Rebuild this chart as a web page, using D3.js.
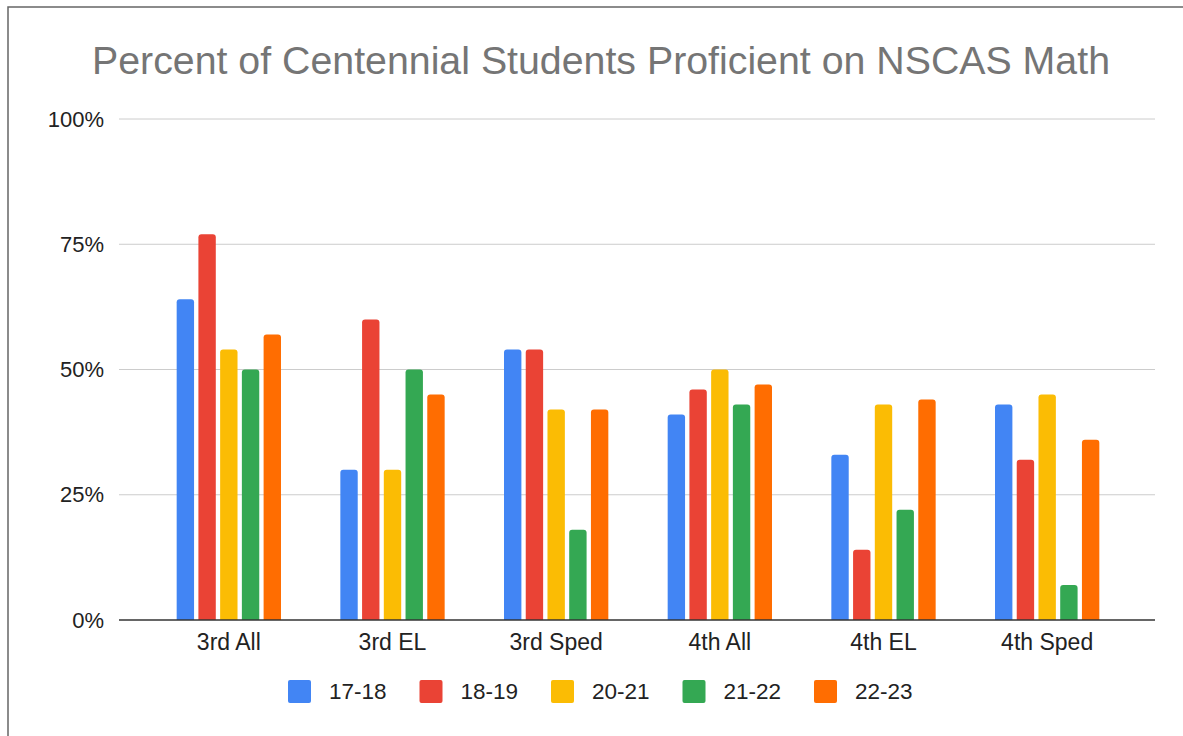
<!DOCTYPE html>
<html>
<head>
<meta charset="utf-8">
<script src="https://cdn.jsdelivr.net/npm/d3@7"></script>
<style>
  body { margin: 0; background: #fff; }
  svg { display: block; font-family: Arial, "Liberation Sans", sans-serif; }
</style>
</head>
<body>
<div id="chart"></div>
<script>
// data
const categories = ["3rd All", "3rd EL", "3rd Sped", "4th All", "4th EL", "4th Sped"];
const years = ["17-18", "18-19", "20-21", "21-22", "22-23"];
const colors = ["#4285F4", "#EA4335", "#FBBC04", "#34A853", "#FF6D01"];
const values17_18 = [64, 30, 54, 41, 33, 43];
const values18_19 = [77, 60, 54, 46, 14, 32];
const values20_21 = [54, 30, 42, 50, 43, 45];
const values21_22 = [50, 50, 18, 43, 22, 7];
const values22_23 = [57, 45, 42, 47, 44, 36];
const yTicks = [0, 25, 50, 75, 100];

const series = [values17_18, values18_19, values20_21, values21_22, values22_23];

const width = 1183, height = 736;

const svg = d3.select("#chart").append("svg")
    .attr("width", width)
    .attr("height", height);

// screenshot frame
svg.append("rect")
    .attr("x", 8).attr("y", 7)
    .attr("width", 1300).attr("height", 900)
    .attr("fill", "none")
    .attr("stroke", "#666")
    .attr("stroke-width", 1.5);

// title
svg.append("text")
    .attr("x", 601)
    .attr("y", 74)
    .attr("text-anchor", "middle")
    .attr("fill", "#757575")
    .attr("font-size", "38px")
    .attr("textLength", 1018)
    .attr("lengthAdjust", "spacingAndGlyphs")
    .text("Percent of Centennial Students Proficient on NSCAS Math");

// scales
const y = d3.scaleLinear().domain([0, 100]).range([620, 119]);
const x0 = d3.scaleBand().domain(categories).range([147, 1129]).paddingInner(0.3626).paddingOuter(0.1813);
const x1 = d3.scaleBand().domain(years).range([0, x0.bandwidth()]).paddingInner(0.2);

// gridlines
svg.append("g")
    .selectAll("line")
    .data(yTicks.filter(t => t > 0))
    .join("line")
        .attr("x1", 119).attr("x2", 1155)
        .attr("y1", d => y(d)).attr("y2", d => y(d))
        .attr("stroke", "#cccccc")
        .attr("stroke-width", 1);

// y labels
svg.append("g")
    .selectAll("text")
    .data(yTicks)
    .join("text")
        .attr("x", 104)
        .attr("y", d => y(d) + 7.5)
        .attr("text-anchor", "end")
        .attr("font-size", "22px")
        .attr("fill", "#222")
        .text(d => d + "%");

// bars with rounded tops
function barPath(x, w, top, bottom) {
    const r = Math.min(3, (bottom - top) / 2);
    return `M${x},${bottom}V${top + r}Q${x},${top} ${x + r},${top}H${x + w - r}Q${x + w},${top} ${x + w},${top + r}V${bottom}Z`;
}

const groups = svg.append("g")
    .selectAll("g")
    .data(categories)
    .join("g")
        .attr("transform", d => "translate(" + x0(d) + ",0)");

groups.selectAll("path")
    .data((c, i) => years.map((yr, j) => ({ year: yr, color: colors[j], value: series[j][i] })))
    .join("path")
        .attr("d", d => barPath(x1(d.year), x1.bandwidth(), y(d.value), y(0)))
        .attr("fill", d => d.color);

// baseline
svg.append("line")
    .attr("x1", 119).attr("x2", 1155)
    .attr("y1", y(0)).attr("y2", y(0))
    .attr("stroke", "#333")
    .attr("stroke-width", 1.5);

// category labels
svg.append("g")
    .selectAll("text")
    .data(categories)
    .join("text")
        .attr("x", d => x0(d) + x0.bandwidth() / 2)
        .attr("y", 650)
        .attr("text-anchor", "middle")
        .attr("font-size", "23px")
        .attr("fill", "#222")
        .text(d => d);

// legend
const legend = svg.append("g")
    .selectAll("g")
    .data(years)
    .join("g")
        .attr("transform", (d, i) => "translate(" + (288 + i * 131.5) + ",680)");

legend.append("rect")
    .attr("width", 23).attr("height", 23)
    .attr("rx", 2)
    .attr("fill", (d, i) => colors[i]);

legend.append("text")
    .attr("x", 41)
    .attr("y", 19)
    .attr("font-size", "22.5px")
    .attr("fill", "#222")
    .text(d => d);
</script>
</body>
</html>
